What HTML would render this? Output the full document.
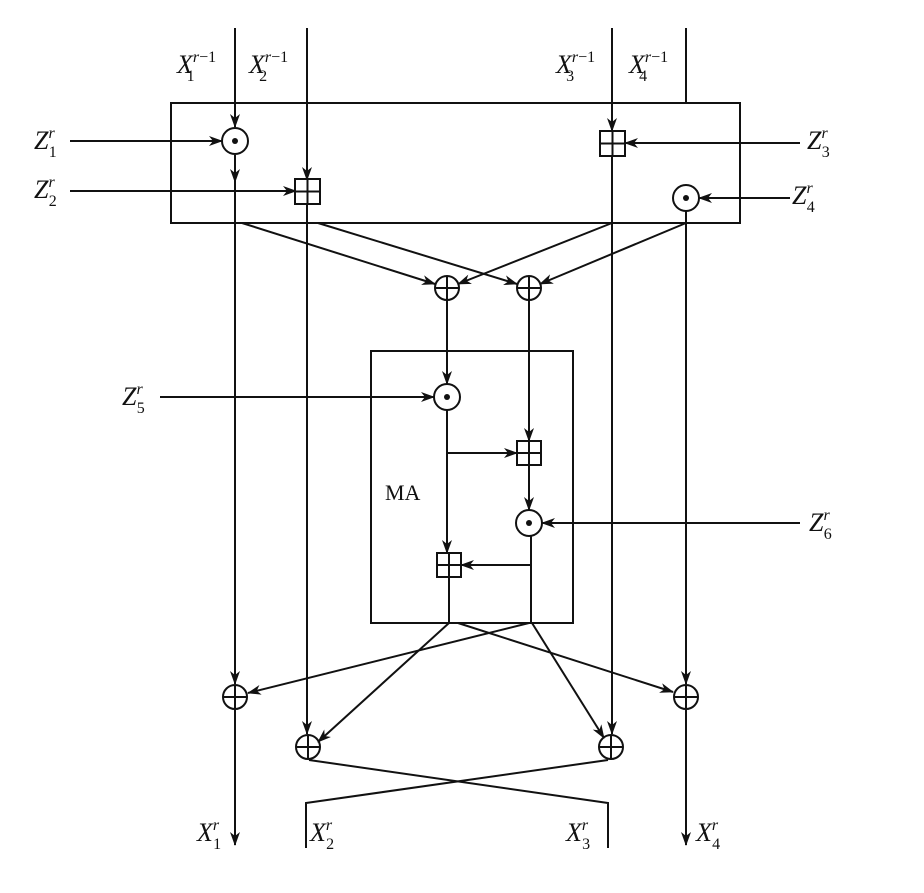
<!DOCTYPE html>
<html><head><style>
body{margin:0;background:#fff}
svg text{font-family:"Liberation Serif",serif;fill:#111}
.i{font-style:italic}
.n{font-style:normal}
</style></head><body>
<svg width="924" height="888" viewBox="0 0 924 888" xmlns="http://www.w3.org/2000/svg">
<defs><marker id="a" markerWidth="14" markerHeight="10" refX="13" refY="5" orient="auto" markerUnits="userSpaceOnUse"><path d="M0,0 L14,5 L0,10 L4,5 Z" fill="#111"/></marker></defs>
<g stroke="#111" stroke-width="2" fill="none">
<rect x="171" y="103" width="569" height="120"/>
<rect x="371" y="351" width="202" height="272"/>
<line x1="235" y1="28" x2="235" y2="127" marker-end="url(#a)"/>
<line x1="235" y1="155" x2="235" y2="182" marker-end="url(#a)"/>
<line x1="235" y1="182" x2="235" y2="684" marker-end="url(#a)"/>
<line x1="235" y1="710" x2="235" y2="845" marker-end="url(#a)"/>
<line x1="307" y1="28" x2="307" y2="180" marker-end="url(#a)"/>
<line x1="307" y1="204" x2="307" y2="734" marker-end="url(#a)"/>
<line x1="612" y1="28" x2="612" y2="131" marker-end="url(#a)"/>
<line x1="612" y1="155" x2="612" y2="734" marker-end="url(#a)"/>
<line x1="686" y1="28" x2="686" y2="103"/>
<line x1="686" y1="211" x2="686" y2="684" marker-end="url(#a)"/>
<line x1="686" y1="710" x2="686" y2="845" marker-end="url(#a)"/>
<line x1="70" y1="141" x2="222" y2="141" marker-end="url(#a)"/>
<line x1="70" y1="191" x2="296" y2="191" marker-end="url(#a)"/>
<line x1="800" y1="143" x2="625" y2="143" marker-end="url(#a)"/>
<line x1="790" y1="198" x2="699" y2="198" marker-end="url(#a)"/>
<line x1="160" y1="397" x2="434" y2="397" marker-end="url(#a)"/>
<line x1="800" y1="523" x2="542" y2="523" marker-end="url(#a)"/>
<line x1="242" y1="223" x2="435" y2="284" marker-end="url(#a)"/>
<line x1="318" y1="223" x2="517" y2="284" marker-end="url(#a)"/>
<line x1="612" y1="223" x2="458" y2="284" marker-end="url(#a)"/>
<line x1="686" y1="223" x2="540" y2="284" marker-end="url(#a)"/>
<line x1="447" y1="300" x2="447" y2="384" marker-end="url(#a)"/>
<line x1="529" y1="300" x2="529" y2="441" marker-end="url(#a)"/>
<line x1="447" y1="410" x2="447" y2="553" marker-end="url(#a)"/>
<line x1="447" y1="453" x2="517" y2="453" marker-end="url(#a)"/>
<line x1="529" y1="465" x2="529" y2="510" marker-end="url(#a)"/>
<line x1="531" y1="536" x2="531" y2="623"/>
<line x1="531" y1="565" x2="461" y2="565" marker-end="url(#a)"/>
<line x1="449" y1="577" x2="449" y2="623"/>
<line x1="449" y1="623" x2="318" y2="742" marker-end="url(#a)"/>
<line x1="458" y1="623" x2="673" y2="692" marker-end="url(#a)"/>
<line x1="529" y1="623" x2="248" y2="693" marker-end="url(#a)"/>
<line x1="532" y1="623" x2="604" y2="738" marker-end="url(#a)"/>
<polyline points="309,760 608,803 608,848"/>
<polyline points="608,760 306,803 306,848"/>
<circle cx="235" cy="141" r="13"/>
<circle cx="686" cy="198" r="13"/>
<circle cx="447" cy="397" r="13"/>
<circle cx="529" cy="523" r="13"/>
<rect x="295" y="179" width="25" height="25"/><path d="M307.5 179V204M295 191.5H320"/>
<rect x="600" y="131" width="25" height="25"/><path d="M612.5 131V156M600 143.5H625"/>
<rect x="517" y="441" width="24" height="24"/><path d="M529 441V465M517 453H541"/>
<rect x="437" y="553" width="24" height="24"/><path d="M449 553V577M437 565H461"/>
<circle cx="447" cy="288" r="12"/><path d="M447 276V300M435 288H459"/>
<circle cx="529" cy="288" r="12"/><path d="M529 276V300M517 288H541"/>
<circle cx="235" cy="697" r="12"/><path d="M235 685V709M223 697H247"/>
<circle cx="686" cy="697" r="12"/><path d="M686 685V709M674 697H698"/>
<circle cx="308" cy="747" r="12"/><path d="M308 735V759M296 747H320"/>
<circle cx="611" cy="747" r="12"/><path d="M611 735V759M599 747H623"/>
</g>
<g fill="#111"><circle cx="235" cy="141" r="3"/><circle cx="686" cy="198" r="3"/><circle cx="447" cy="397" r="3"/><circle cx="529" cy="523" r="3"/></g>
<g font-size="26">
<text x="177" y="73" class="i">X<tspan font-size="16" dy="-11" class="i">r</tspan><tspan font-size="16" class="n">−1</tspan><tspan font-size="16" dx="-29" dy="19" class="n">1</tspan></text>
<text x="249" y="73" class="i">X<tspan font-size="16" dy="-11" class="i">r</tspan><tspan font-size="16" class="n">−1</tspan><tspan font-size="16" dx="-29" dy="19" class="n">2</tspan></text>
<text x="556" y="73" class="i">X<tspan font-size="16" dy="-11" class="i">r</tspan><tspan font-size="16" class="n">−1</tspan><tspan font-size="16" dx="-29" dy="19" class="n">3</tspan></text>
<text x="629" y="73" class="i">X<tspan font-size="16" dy="-11" class="i">r</tspan><tspan font-size="16" class="n">−1</tspan><tspan font-size="16" dx="-29" dy="19" class="n">4</tspan></text>
<text x="34" y="149" class="i">Z<tspan font-size="16" dy="-11">r</tspan><tspan font-size="16" dx="-6" dy="19" class="n">1</tspan></text>
<text x="34" y="198" class="i">Z<tspan font-size="16" dy="-11">r</tspan><tspan font-size="16" dx="-6" dy="19" class="n">2</tspan></text>
<text x="807" y="149" class="i">Z<tspan font-size="16" dy="-11">r</tspan><tspan font-size="16" dx="-6" dy="19" class="n">3</tspan></text>
<text x="792" y="204" class="i">Z<tspan font-size="16" dy="-11">r</tspan><tspan font-size="16" dx="-6" dy="19" class="n">4</tspan></text>
<text x="122" y="405" class="i">Z<tspan font-size="16" dy="-11">r</tspan><tspan font-size="16" dx="-6" dy="19" class="n">5</tspan></text>
<text x="809" y="531" class="i">Z<tspan font-size="16" dy="-11">r</tspan><tspan font-size="16" dx="-6" dy="19" class="n">6</tspan></text>
<text x="197" y="841" class="i">X<tspan font-size="16" dy="-11">r</tspan><tspan font-size="16" dx="-6" dy="19" class="n">1</tspan></text>
<text x="310" y="841" class="i">X<tspan font-size="16" dy="-11">r</tspan><tspan font-size="16" dx="-6" dy="19" class="n">2</tspan></text>
<text x="566" y="841" class="i">X<tspan font-size="16" dy="-11">r</tspan><tspan font-size="16" dx="-6" dy="19" class="n">3</tspan></text>
<text x="696" y="841" class="i">X<tspan font-size="16" dy="-11">r</tspan><tspan font-size="16" dx="-6" dy="19" class="n">4</tspan></text>
<text x="385" y="500" class="n" font-size="22">MA</text>
</g>
</svg>
</body></html>
